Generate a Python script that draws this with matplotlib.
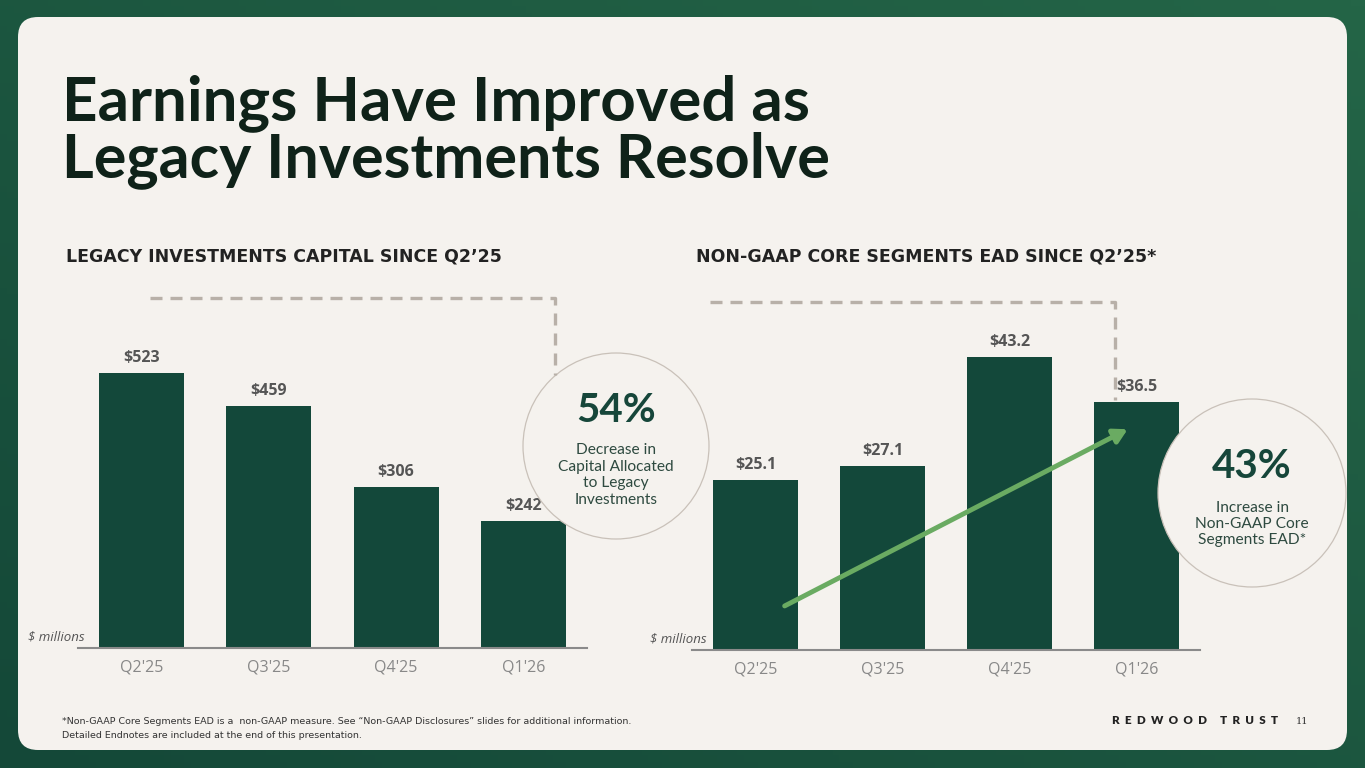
import numpy as np
import matplotlib
matplotlib.use("Agg")
import matplotlib.pyplot as plt
from matplotlib.patches import FancyBboxPatch, Circle

# data
quarters = ["Q2'25", "Q3'25", "Q4'25", "Q1'26"]
legacy_capital = [523, 459, 306, 242]
legacy_labels = ["$523", "$459", "$306", "$242"]
core_ead = [25.1, 27.1, 43.2, 36.5]
core_labels = ["$25.1", "$27.1", "$43.2", "$36.5"]

W, H = 1365, 768
BAR = "#13483a"
CARD = "#f5f2ee"
DASH = "#b8b0a8"

fig = plt.figure(figsize=(W / 100, H / 100), dpi=100)


def px_axes(x0, y0, x1, y1, z):
    # axes placed by pixel box (y measured from top)
    return fig.add_axes([x0 / W, 1 - y1 / H, (x1 - x0) / W, (y1 - y0) / H], zorder=z)


# background gradient + card
bg = px_axes(0, 0, W, H, 0)
gx, gy = np.meshgrid(np.linspace(0, 1, 200), np.linspace(0, 1, 120))
grad = (gx + (1 - gy)) / 2
bg.imshow(grad, extent=[0, W, H, 0], cmap=matplotlib.colors.LinearSegmentedColormap.from_list(
    "g", ["#144838", "#246547"]), aspect="auto")
bg.add_patch(FancyBboxPatch((18, 17), 1329, 733, boxstyle="round,pad=0,rounding_size=20",
                            fc=CARD, ec="none"))
bg.set_xlim(0, W)
bg.set_ylim(H, 0)
bg.axis("off")

# title
bg.text(62, 103, "Earnings Have Improved as", fontsize=44.5, fontweight="bold",
        family="Lato", color="#0f2219", va="center")
bg.text(62, 160, "Legacy Investments Resolve", fontsize=44, fontweight="bold",
        family="Lato", color="#0f2219", va="center")

# section headings
bg.text(66, 256, "LEGACY INVESTMENTS CAPITAL SINCE Q2’25", fontsize=12.5, fontweight="bold",
        family="DejaVu Sans", color="#222222", va="center")
bg.text(696, 256, "NON-GAAP CORE SEGMENTS EAD SINCE Q2’25*", fontsize=12.5, fontweight="bold",
        family="DejaVu Sans", color="#222222", va="center")


def bar_panel(ax, values, labels, ymax):
    x = np.arange(len(values))
    ax.bar(x, values, width=0.667, color=BAR, zorder=2)
    for xi, v, lab in zip(x, values, labels):
        ax.annotate(lab, (xi, v), xytext=(0, 5), textcoords="offset points",
                    ha="center", va="bottom", fontsize=11.5, fontweight="bold",
                    family="Open Sans", color="#555555")
    ax.set_xlim(-0.5, 3.5)
    ax.set_ylim(0, ymax)
    ax.set_xticks(x)
    ax.set_xticklabels(quarters, fontsize=11.5, color="#888888", family="Open Sans")
    ax.tick_params(axis="x", length=0, pad=8)
    ax.set_yticks([])
    for s in ["top", "left", "right"]:
        ax.spines[s].set_visible(False)
    ax.spines["bottom"].set_color("#8a8a8a")
    ax.spines["bottom"].set_linewidth(1.5)
    ax.patch.set_alpha(0)


axL = px_axes(78, 332, 587, 648, 1)
bar_panel(axL, legacy_capital, legacy_labels, 600)
axR = px_axes(692, 310.5, 1200, 650, 1)
bar_panel(axR, core_ead, core_labels, 50)

# growth arrow
axR.annotate("", xy=(2.95, 32.7), xytext=(0.21, 6.3),
             arrowprops=dict(arrowstyle="-|>,head_length=0.8,head_width=0.45",
                             color="#6aab62", lw=3.5), zorder=3)

# overlay: dashed connectors, circles, callouts
ov = px_axes(0, 0, W, H, 2)
ov.set_xlim(0, W)
ov.set_ylim(H, 0)
ov.axis("off")
ov.patch.set_alpha(0)

ov.plot([150, 555, 555], [298, 298, 375], ls=(0, (3.6, 2.4)), color=DASH, lw=2.4)
ov.plot([710, 1115, 1115], [302, 302, 400], ls=(0, (3.6, 2.4)), color=DASH, lw=2.4)

ov.add_patch(Circle((616, 446), 93, fc=CARD, ec="#c9c1b9", lw=0.9))
ov.add_patch(Circle((1252, 493), 94, fc=CARD, ec="#c9c1b9", lw=0.9))

ov.text(616, 410, "54%", ha="center", va="center", fontsize=29, fontweight="bold",
        family="Lato", color="#16463a")
ov.text(616, 475, "Decrease in\nCapital Allocated\nto Legacy\nInvestments", ha="center",
        va="center", fontsize=11.2, family="Lato", color="#2e4a40", linespacing=1.22)
ov.text(1252, 466, "43%", ha="center", va="center", fontsize=29, fontweight="bold",
        family="Lato", color="#16463a")
ov.text(1252, 524, "Increase in\nNon-GAAP Core\nSegments EAD*", ha="center",
        va="center", fontsize=11.2, family="Lato", color="#2e4a40", linespacing=1.22)

# units
ov.text(28, 637, "$ millions", fontsize=9.5, style="italic", family="Open Sans",
        color="#555555", va="center")
ov.text(650, 639, "$ millions", fontsize=9.5, style="italic", family="Open Sans",
        color="#555555", va="center")

# footer
ov.text(62, 721, "*Non-GAAP Core Segments EAD is a  non-GAAP measure. See “Non-GAAP Disclosures” "
        "slides for additional information.", fontsize=6.8,
        family=["Liberation Sans Narrow", "DejaVu Sans"], color="#333333", va="center")
ov.text(62, 736, "Detailed Endnotes are included at the end of this presentation.", fontsize=6.8,
        family=["Liberation Sans Narrow", "DejaVu Sans"], color="#333333", va="center")
ov.text(1278, 721, "R  E  D  W  O  O  D     T  R  U  S  T", fontsize=8.4, fontweight="heavy",
        family="Lato", color="#222222", va="center", ha="right")
ov.text(1296, 721, "11", fontsize=7, family="DejaVu Serif", color="#333333", va="center")

fig.savefig("out.png", dpi=100, facecolor="#1a5540")
